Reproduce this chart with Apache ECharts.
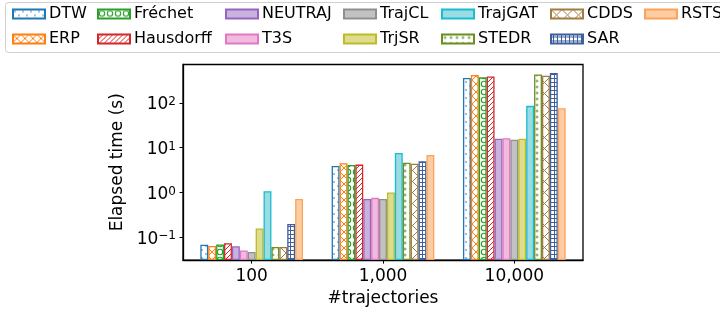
<!DOCTYPE html>
<html>
<head>
<meta charset="utf-8">
<script src="https://cdn.jsdelivr.net/npm/echarts@6/dist/echarts.min.js"></script>
<style>
  html, body { margin: 0; padding: 0; background: #fff; }
  #chart { width: 720px; height: 312px; }
</style>
</head>
<body>
<div id="chart"></div>
<script>
// groups on the x axis
const sizes = ["100", "1,000", "10,000"];
const methods = ["DTW", "ERP", "Fréchet", "Hausdorff", "NEUTRAJ", "T3S", "TrajCL",
  "TrjSR", "TrajGAT", "STEDR", "CDDS", "SAR", "RSTS"];

// elapsed time (s), one value per group
const dtw = [0.068, 3.9, 360];
const erp = [0.064, 4.5, 420];
const frechet = [0.069, 4.1, 372];
const hausdorff = [0.074, 4.2, 390];
const neutraj = [0.063, 0.72, 15.8];
const t3s = [0.051, 0.76, 16.2];
const trajcl = [0.047, 0.72, 15.1];
const trjsr = [0.158, 1.0, 15.8];
const trajgat = [1.07, 7.6, 86];
const stedr = [0.061, 4.6, 430];
const cdds = [0.061, 4.4, 405];
const sar = [0.198, 5.0, 465];
const rsts = [0.72, 6.9, 76];

const values = [dtw, erp, frechet, hausdorff, neutraj, t3s, trajcl, trjsr, trajgat, stedr, cdds, sar, rsts];

// hatch pattern drawn on a small canvas, white background
function hatch(kind, color) {
  const size = { dot: 8, x: 8, o: 8, slash: 5, plus: 6, bigx: 11, grid: 4 }[kind];
  const c = document.createElement("canvas");
  c.width = size; c.height = size;
  const g = c.getContext("2d");
  g.fillStyle = "#fff";
  g.fillRect(0, 0, size, size);
  g.strokeStyle = color;
  g.fillStyle = color;
  g.lineWidth = 1;
  if (kind === "dot") {
    g.beginPath(); g.arc(2, 2, 0.8, 0, Math.PI * 2); g.fill();
    g.beginPath(); g.arc(6, 6, 0.8, 0, Math.PI * 2); g.fill();
  } else if (kind === "x" || kind === "bigx") {
    g.beginPath();
    g.moveTo(0, 0); g.lineTo(size, size);
    g.moveTo(size, 0); g.lineTo(0, size);
    g.stroke();
  } else if (kind === "o") {
    g.lineWidth = 1.1;
    g.beginPath(); g.arc(4, 4, 2.7, 0, Math.PI * 2); g.stroke();
  } else if (kind === "slash") {
    g.beginPath();
    g.moveTo(-1, size + 1); g.lineTo(size + 1, -1);
    g.moveTo(-1, 1); g.lineTo(1, -1);
    g.moveTo(size - 1, size + 1); g.lineTo(size + 1, size - 1);
    g.stroke();
  } else if (kind === "plus") {
    g.globalAlpha = 0.85;
    g.fillRect(2.5, 1.5, 1, 3);
    g.fillRect(1.5, 2.5, 3, 1);
  } else if (kind === "grid") {
    g.fillRect(0, 2, size, 1);
    g.fillRect(2, 0, 1, size);
  }
  return { image: c, repeat: "repeat" };
}

const styles = [
  { fill: hatch("dot", "#1f77b4"), edge: "#1f77b4" },
  { fill: hatch("x", "#ff7f0e"), edge: "#ff7f0e" },
  { fill: hatch("o", "#2ca02c"), edge: "#2ca02c" },
  { fill: hatch("slash", "#d62728"), edge: "#d62728" },
  { fill: "#c9b3de", edge: "#9467bd" },
  { fill: "#f1bbe0", edge: "#e377c2" },
  { fill: "#c2c2c2", edge: "#8f8f8f" },
  { fill: "#dddc90", edge: "#bcbd22" },
  { fill: "#9bdbe3", edge: "#17becf" },
  { fill: hatch("plus", "#6b8e23"), edge: "#6b8e23" },
  { fill: hatch("bigx", "#a27b3f"), edge: "#a27b3f" },
  { fill: hatch("grid", "#3d5f9e"), edge: "#3d5f9e" },
  { fill: "#fdcca0", edge: "#fba35e" }
];

const font = "DejaVu Sans";
const sup = (e) => "{b|10}{s|" + (e < 0 ? "\u2212" + (-e) : e) + "}";

// legend columns (matplotlib fills column by column)
const legendCols = [[0, 1], [2, 3], [4, 5], [6, 7], [8, 9], [10, 11], [12]];
const legendLeft = [12, 97, 225, 343, 441, 550, 644];

const chart = echarts.init(document.getElementById("chart"), null, { renderer: "canvas" });
chart.setOption({
  animation: false,
  backgroundColor: "#fff",
  textStyle: { fontFamily: font },
  graphic: [{
    type: "rect",
    shape: { x: 5.5, y: 2.5, width: 730, height: 50, r: 3 },
    style: { fill: "#fff", stroke: "#d0d0d0", lineWidth: 1 },
    z: -1
  }],
  legend: legendCols.map((col, i) => ({
    data: col.map(k => methods[k]),
    orient: "vertical",
    left: legendLeft[i],
    top: 6,
    padding: 0,
    itemGap: 9,
    itemWidth: 32,
    itemHeight: 9,
    icon: "rect",
    selectedMode: false,
    textStyle: { fontFamily: font, fontSize: 16, color: "#000", lineHeight: 16, padding: [0, 0, 0, -1] }
  })),
  grid: { left: 183, right: 137, top: 64.5, bottom: 50, show: true, borderColor: "#000", borderWidth: 1.3, backgroundColor: "transparent" },
  xAxis: {
    type: "value",
    min: -0.523,
    max: 2.523,
    splitLine: { show: false },
    axisLine: { show: true, onZero: false, lineStyle: { color: "#000", width: 1.3 } },
    axisTick: { show: true, customValues: [0, 1, 2], length: 3.5, lineStyle: { color: "#000", width: 1 } },
    axisLabel: {
      customValues: [0, 1, 2],
      formatter: (v) => sizes[Math.round(v)],
      color: "#000", fontSize: 17, fontFamily: font, margin: 8
    },
    name: "#trajectories",
    nameLocation: "middle",
    nameGap: 25,
    nameTextStyle: { color: "#000", fontSize: 17, fontFamily: font }
  },
  yAxis: {
    type: "log",
    logBase: 10,
    min: 0.031,
    max: 720,
    startValue: 0.031,
    splitLine: { show: false },
    axisLine: { show: true, onZero: false, lineStyle: { color: "#000", width: 1.3 } },
    axisTick: { show: true, length: 3.5, lineStyle: { color: "#000", width: 1 } },
    axisLabel: {
      showMinLabel: false,
      showMaxLabel: false,
      margin: 7,
      padding: [4, 0, 0, 0],
      formatter: (v) => sup(Math.round(Math.log10(v))),
      rich: {
        b: { fontSize: 17, fontFamily: font, color: "#000" },
        s: { fontSize: 12, fontFamily: font, color: "#000", verticalAlign: "top", padding: [0, 0, 6, 0] }
      }
    },
    name: "Elapsed time (s)",
    nameLocation: "middle",
    nameGap: 51,
    nameTextStyle: { color: "#000", fontSize: 17, fontFamily: font }
  },
  series: methods.map((name, i) => ({
    name: name,
    type: "bar",
    barWidth: 7.9,
    barGap: "0%",
    data: values[i].map((v, j) => [j, v]),
    itemStyle: { color: styles[i].fill, borderColor: styles[i].edge, borderWidth: 1.3 }
  }))
});
</script>
</body>
</html>
